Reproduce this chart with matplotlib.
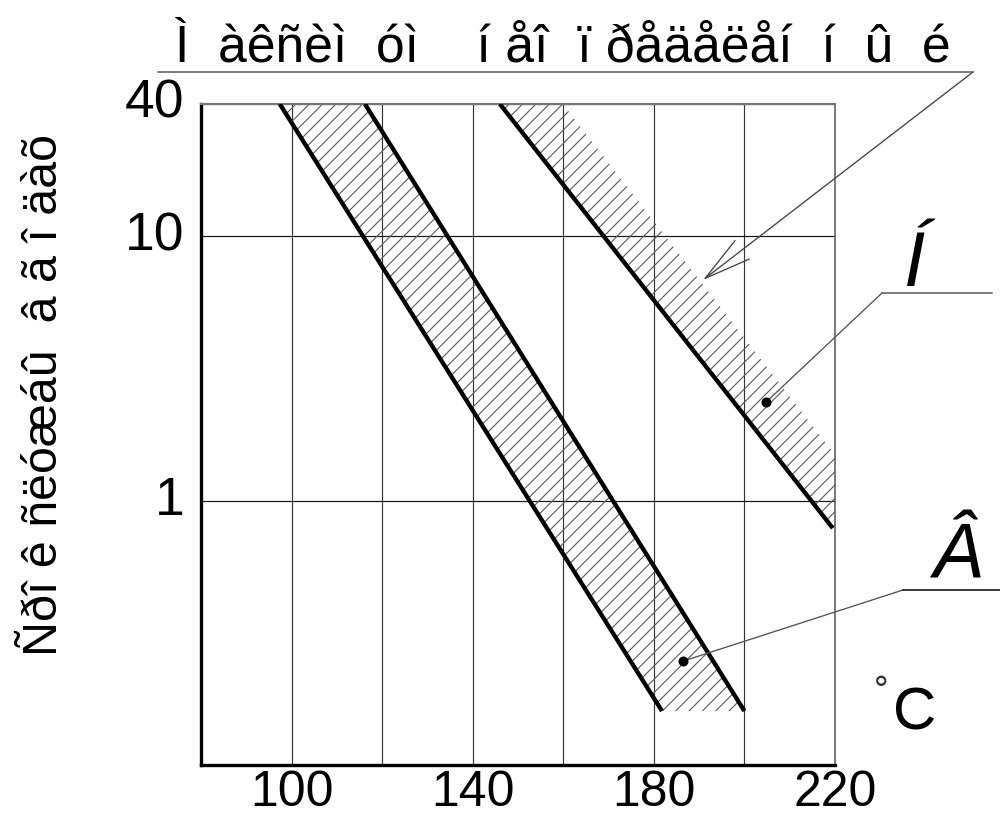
import numpy as np
import matplotlib
matplotlib.use("Agg")
import matplotlib.pyplot as plt
from matplotlib.ticker import FixedLocator, NullLocator, FixedFormatter

# ---- data ----
y_top = 10 ** 1.5          # top edge of the chart (labelled "40")
y_bottom = 0.1
x_major = [100, 140, 180, 220]
x_major_labels = ["100", "140", "180", "220"]
x_minor = [120, 160, 200]
y_ticks = [1, 10, y_top]
y_tick_labels = ["1", "10", "40"]

# band "В" (left band): two boundary lines, (x, y) end points
band_v_left_x = [97.4, 181.8]
band_v_left_y = [y_top, 0.16]
band_v_right_x = [116.2, 200.0]
band_v_right_y = [y_top, 0.16]

# band "Н" (right band): solid lower line and dotted upper edge of hatching
band_n_line_x = [146.0, 219.5]
band_n_line_y = [y_top, 0.787]
band_n_edge_x = [159.9, 220.0]
band_n_edge_y = [y_top, 1.49]

dot_n = (204.8, 2.36)
dot_v = (186.4, 0.247)

title_text = "Ì  àêñèì  óì    í åî  ï ðåäåëåí  í  û  é"
ylabel_text = "Ñðî ê ñëóæáû  â ã î äàõ"
label_n = "Í"
label_v = "Â"

plt.rcParams['font.family'] = ['Liberation Sans', 'DejaVu Sans']
plt.rcParams['hatch.linewidth'] = 0.7

DPI = 120
W, H = 1000, 821
fig = plt.figure(figsize=(W / DPI, H / DPI), dpi=DPI)

def fx(px):
    return px / W

def fy(py):
    return 1 - py / H

ax_l, ax_r, ax_t, ax_b = 201, 835, 104, 765
ax = fig.add_axes([fx(ax_l), fy(ax_b), (ax_r - ax_l) / W, (ax_b - ax_t) / H])
ax.set_yscale('log')
ax.set_xlim(80, 220)
ax.set_ylim(y_bottom, y_top)

# hatched regions
hatch_col = '#606060'
ax.fill(band_v_left_x + band_v_right_x[::-1],
        band_v_left_y + band_v_right_y[::-1],
        facecolor='none', edgecolor=hatch_col, linewidth=0, hatch='///', zorder=2)
ax.fill(band_n_line_x + [220.0] + band_n_edge_x[::-1],
        band_n_line_y + [band_n_line_y[1]] + band_n_edge_y[::-1],
        facecolor='none', edgecolor=hatch_col, linewidth=0, hatch='///', zorder=2)

# thick boundary lines
for xs, ys in [(band_v_left_x, band_v_left_y), (band_v_right_x, band_v_right_y),
               (band_n_line_x, band_n_line_y)]:
    ax.plot(xs, ys, color='black', lw=2.6, solid_capstyle='butt', zorder=3)

# dots
ax.plot(*dot_n, 'o', color='black', ms=5, zorder=4)
ax.plot(*dot_v, 'o', color='black', ms=5, zorder=4)

# ticks and grid
ax.xaxis.set_major_locator(FixedLocator(x_major))
ax.xaxis.set_major_formatter(FixedFormatter(x_major_labels))
ax.xaxis.set_minor_locator(FixedLocator(x_minor))
ax.yaxis.set_major_locator(FixedLocator(y_ticks))
ax.yaxis.set_major_formatter(FixedFormatter(y_tick_labels))
ax.yaxis.set_minor_locator(NullLocator())
ax.grid(True, which='both', axis='x', color='#333333', lw=0.7)
ax.grid(True, which='major', axis='y', color='#111111', lw=0.7)
ax.tick_params(which='both', length=0)
ax.tick_params(axis='x', labelsize=30, pad=3)
ax.tick_params(axis='y', labelsize=32, pad=10)
for lab in ax.get_yticklabels():
    lab.set_verticalalignment('center')

for s in ['left', 'bottom']:
    ax.spines[s].set_linewidth(2.0)
    ax.spines[s].set_color('black')
ax.spines['top'].set_linewidth(1.3)
ax.spines['top'].set_color('#777777')
ax.spines['right'].set_linewidth(0.9)
ax.spines['right'].set_color('#555555')

# y label
fig.text(fx(45), fy(395), ylabel_text, rotation=90, ha='center', va='center', fontsize=29)

# title with underline and arrow
fig.text(fx(563), fy(62), title_text, ha='center', va='baseline', fontsize=31)
fig.add_artist(plt.Line2D([fx(158), fx(973)], [fy(72), fy(72)], color='#555555', lw=0.9,
                          transform=fig.transFigure))
ax.annotate('', xy=(fx(703), fy(280)), xycoords='figure fraction',
            xytext=(fx(973), fy(72)), textcoords='figure fraction',
            arrowprops=dict(arrowstyle='->,head_length=1.4,head_width=0.35',
                            color='#444444', lw=0.8, shrinkA=0, shrinkB=0,
                            mutation_scale=20))

# label Н
fig.text(fx(915), fy(286), label_n, ha='center', va='baseline', fontsize=46, style='italic')
fig.add_artist(plt.Line2D([fx(882), fx(992)], [fy(293), fy(293)], color='#555555', lw=0.9,
                          transform=fig.transFigure))
ax.annotate('', xy=dot_n, xycoords='data', xytext=(fx(882), fy(293)),
            textcoords='figure fraction',
            arrowprops=dict(arrowstyle='-', color='#555555', lw=0.8, shrinkA=0, shrinkB=0))

# label В
fig.text(fx(958), fy(579), label_v, ha='center', va='baseline', fontsize=46, style='italic')
fig.add_artist(plt.Line2D([fx(903), fx(1000)], [fy(590), fy(590)], color='black', lw=0.9,
                          transform=fig.transFigure))
ax.annotate('', xy=dot_v, xycoords='data', xytext=(fx(903), fy(590)),
            textcoords='figure fraction',
            arrowprops=dict(arrowstyle='-', color='#555555', lw=0.8, shrinkA=0, shrinkB=0))

# degrees C
fig.text(fx(881), fy(693), "°", ha='center', va='center', fontsize=22, color='#333333')
fig.text(fx(915), fy(729), "C", ha='center', va='baseline', fontsize=36)

fig.savefig('out.png', dpi=DPI)
